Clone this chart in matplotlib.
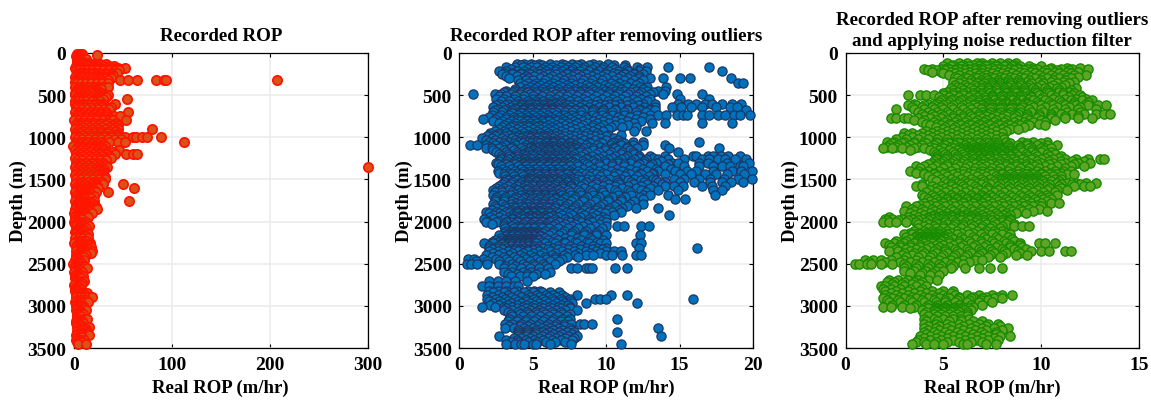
import numpy as np
import matplotlib
matplotlib.use("Agg")
import matplotlib.pyplot as plt

plt.rcParams['font.family'] = ['Liberation Serif', 'DejaVu Serif']
plt.rcParams['font.weight'] = 'bold'

# values, one list of ROP values per depth row
red_depth = [15, 40, 70, 100, 130, 150, 175, 205, 235, 270, 300, 325, 360, 400, 450, 500, 550, 600, 640, 700, 750, 800, 850, 900, 950, 1000, 1050, 1100, 1150, 1200, 1250, 1300, 1350, 1400, 1450, 1500, 1550, 1600, 1650, 1700, 1750, 1800, 1850, 1900, 1950, 2000, 2050, 2100, 2150, 2200, 2250, 2300, 2350, 2400, 2450, 2500, 2550, 2600, 2650, 2700, 2750, 2800, 2850, 2900, 2950, 3000, 3050, 3100, 3150, 3200, 3250, 3300, 3350, 3400, 3450]
red_rop = [
    [3, 5, 7, 8], [2.5, 4.5, 6.5, 8.5], [3, 6, 9, 12], [3, 5, 8],
    [3, 6, 10, 14, 18, 22, 27, 33], [2, 5, 8, 12, 16, 20, 25, 30, 36, 41],
    [1, 4, 8, 12, 17, 22, 28, 34, 40, 45, 52], [2, 5, 9, 13, 18, 24, 30, 36, 42, 46],
    [3, 7, 11, 16, 21, 26, 32, 38, 44], [2, 6, 10, 14, 20, 25, 30, 36, 40],
    [3, 8, 13, 18, 23, 28, 33, 38], [2, 6, 11, 16, 22, 28, 35, 47, 55, 64, 84, 92, 94],
    [3, 7, 12, 17, 23, 29, 35], [1, 5, 10, 15, 20, 26, 31, 35], [2, 6, 11, 16, 21, 25],
    [1, 5, 9, 14, 20, 26, 30, 35], [2, 6, 10, 15, 20, 25, 30, 54], [1, 4, 9, 14, 19, 24, 29, 42],
    [2, 6, 11, 17, 23, 30, 38], [1, 5, 10, 16, 22, 28, 33, 55], [2, 6, 12, 18, 25, 32, 41, 47],
    [0.5, 5, 10, 16, 22, 30, 36, 40, 53], [2, 7, 13, 19, 26, 33, 40, 45], [1, 6, 12, 18, 25, 32, 39, 45, 80],
    [2, 7, 14, 21, 28, 35, 45], [1, 5, 11, 17, 24, 31, 38, 45, 52, 60, 63, 70, 75, 89], [2, 7, 13, 20, 28, 36, 45, 52, 112],
    [-1, 4, 9, 15, 21, 27, 32], [1, 6, 12, 18, 24, 30, 46], [2, 7, 13, 20, 27, 34, 42, 53, 60, 64],
    [1, 6, 12, 18, 25, 32, 38], [2, 7, 13, 19, 25, 30], [1, 5, 11, 17, 24, 29, 34, 300],
    [2, 7, 13, 19, 25, 30], [1, 6, 11, 17, 23, 30], [2, 7, 13, 19, 26, 32],
    [1, 6, 11, 17, 24, 30, 50], [2, 6, 11, 16, 21, 25, 61], [1, 5, 9, 14, 18, 22, 35],
    [2, 6, 10, 15, 20], [1, 5, 9, 14, 20, 56], [2, 6, 10, 15, 20], [1, 5, 10, 16, 20, 24],
    [0, 4, 8, 13, 18], [1, 5, 9, 14], [0.5, 4, 8, 12], [2, 6, 10, 15], [2, 6, 10],
    [2, 6, 10, 14], [1, 5, 9, 14], [0.5, 5, 10, 16], [2, 6, 11, 17], [2, 7, 12, 18],
    [2, 6, 9, 12], [1.5, 5, 10], [-1, 2, 6], [1, 4, 8, 13], [0.5, 4, 8], [1, 5, 9],
    [2, 6, 10], [0.5, 4, 7], [1.5, 4, 6], [2, 6, 10, 13], [2, 6, 10, 14, 18],
    [1.5, 5, 9, 14], [2, 5, 9], [2, 7, 12], [3, 6, 9], [3, 8, 13], [2, 5, 9],
    [3, 8, 15], [3, 7, 12], [2, 7, 12, 15], [2, 6, 10], [4, 12],
]
red_top_depth = [25, 320]
red_top_rop = [23, 207]
red_fill_depth = [55, 115, 190, 250, 285, 345, 425, 475, 525, 575, 620, 670, 725, 775, 825, 875, 925, 975, 1025, 1075, 1125, 1175, 1225, 1275, 1325, 1375, 1425, 1475, 1525, 1575, 1625, 1675, 1725, 1775, 1825, 1875, 1925, 1975, 2025, 2075, 2125, 2175, 2225, 2275, 2325, 2375, 2425, 2475, 2525, 2575, 2625, 2675, 2725, 2775, 2825, 2875, 2925, 2975, 3025, 3075, 3125, 3175, 3225, 3275, 3325, 3375, 3425]
red_fill_rop = [
    [4, 7], [4, 7, 10, 15], [3, 7, 10, 15, 20, 26, 32, 38, 43], [4, 8, 12, 18, 23, 28, 34, 39], [1, 5, 9, 12, 16, 21, 27, 32, 37],
    [1, 5, 9, 14, 19, 25, 30], [3, 7, 12, 18, 23, 28], [1, 4, 8, 13, 18, 23, 28], [3, 7, 12, 17, 23, 28, 33], [1, 4, 8, 12, 18, 23, 27],
    [3, 8, 12, 16, 21, 27, 31], [3, 8, 13, 19, 25, 31, 36], [3, 8, 14, 20, 27, 33], [2, 7, 12, 18, 24, 30, 37], [3, 8, 14, 20, 27, 35, 43],
    [3, 8, 15, 22, 29, 37, 44], [3, 9, 15, 21, 28, 36, 43], [3, 9, 16, 23, 31, 38, 44], [3, 8, 14, 21, 28, 35, 42, 48], [2, 6, 11, 18, 24, 30],
    [3, 8, 14, 20, 26, 30], [3, 9, 15, 22, 28, 34, 40], [3, 9, 15, 22, 29, 36], [3, 8, 15, 21, 27, 33], [3, 8, 14, 21, 27, 32],
    [3, 9, 15, 21, 27, 31], [3, 8, 14, 20, 26, 30], [3, 9, 15, 21, 28, 32], [3, 8, 14, 20, 25, 29], [3, 8, 13, 18, 23],
    [2, 4, 7, 9, 11, 14, 16, 20], [3, 5, 7, 9, 12, 14, 17], [3, 5, 7, 9, 11, 14, 17], [3, 5, 7, 9, 12, 15, 18], [2, 4, 7, 9, 12, 15, 18, 22], [2, 4, 6, 8, 11, 13, 15],
    [2, 4, 6, 8, 10, 12], [2, 4, 6, 8], [1, 3, 5, 7, 9, 11], [4, 6, 8, 10, 12], [1, 3, 5, 7, 9], [3, 5, 8, 10, 12], [2, 4, 6, 8, 11, 13], [3, 5, 8, 10, 13, 16], [3, 5, 7, 9, 12, 15], [4, 6, 8, 11, 13, 17], [2, 4, 6, 8, 10], [2, 3, 5, 7], [1, 3, 5, 7, 10], [2, 4, 6],
    [2, 4, 6], [1, 3, 5, 7], [2, 4, 6, 8], [2, 3, 5], [1, 3, 5], [2, 5, 8, 11], [3, 5, 8, 12],
    [2, 4, 7], [3, 5, 7, 9], [3, 5, 7], [3, 5, 7], [2, 5, 8], [3, 5, 7], [4, 6, 9, 12], [4, 6, 9, 13], [3, 6, 8], [3, 5, 8],
]

blue_depth = [125, 165, 210, 255, 300, 350, 400, 445, 490, 540, 600, 640, 680, 730, 780, 830, 880, 930, 970, 1010, 1050, 1090, 1130, 1170, 1220, 1260, 1300, 1345, 1400, 1440, 1490, 1530, 1580, 1630, 1680, 1730, 1790, 1840, 1885, 1920, 1970, 2010, 2050, 2110, 2160, 2220, 2260, 2310, 2350, 2400, 2445, 2500, 2555, 2600, 2645, 2700, 2760, 2820, 2870, 2920, 2970, 3010, 3050, 3100, 3155, 3210, 3260, 3310, 3360, 3410, 3450]
blue_rop = [
    [3.9, 4.4, 4.9, 5.4, 6.2, 7, 7.7, 8.3, 9.1, 10.1],
    [3.2, 3.8, 4.3, 4.9, 5.3, 5.8, 6.3, 6.9, 7.4, 7.9, 8.5, 9.2, 9.8, 10.4, 11.2, 12.1, 12.8, 14.2, 17],
    [2.7, 3.2, 3.9, 4.4, 5, 5.5, 5.9, 6.5, 7, 7.6, 8.2, 8.8, 9.5, 10.1, 10.8, 11.5, 12.2, 12.7, 17.9],
    [2.9, 3.6, 4.2, 4.8, 5.4, 6, 6.6, 7.3, 8, 8.6, 9.3, 10, 10.7, 11.3, 11.9, 12.5],
    [3.4, 4.3, 4.7, 5.5, 6.1, 6.8, 7.4, 8.1, 8.7, 9.4, 10, 10.8, 11.5, 12.2, 13, 13.9, 15, 15.7, 18.5],
    [4.1, 4.7, 5.2, 5.7, 6.4, 7, 7.6, 8.3, 8.9, 9.6, 10.3, 10.9, 11.6, 12.2, 19, 19.3],
    [4.1, 4.8, 5.3, 5.9, 6.4, 7, 7.5, 8.2, 8.8, 9.4, 10.1, 10.7, 11.4, 12.3, 12.8, 14.1],
    [3.2, 3.8, 4.4, 4.9, 5.5, 6, 6.6, 7.2, 7.9, 8.5, 9.2, 9.9, 10.6, 11.2, 12, 12.8, 13.5, 14],
    [0.9, 2.4, 2.8, 3.5, 4.1, 4.8, 5.3, 5.9, 6.5, 7, 7.6, 8.3, 8.9, 9.6, 10.2, 10.8, 11.5, 12.2, 13, 13.9, 14.8, 16.5],
    [2.5, 3, 3.7, 4.3, 5, 5.4, 6.1, 6.6, 7.2, 7.8, 8.4, 9, 9.7, 10.4, 11, 11.8, 12.4, 13, 15, 17],
    [2.7, 3.3, 3.9, 4.4, 5, 5.5, 6, 6.5, 7.1, 7.7, 8.3, 8.9, 9.5, 10.2, 10.9, 11.7, 12.5, 13.3, 14.9, 15.6, 16.1, 16.7, 17.2, 17.9, 18.6, 19.2],
    [2.3, 2.9, 3.5, 4.1, 4.6, 5.1, 5.6, 6.1, 6.6, 7.1, 7.6, 8.2, 8.8, 9.5, 10.2, 11, 11.8, 12.6, 13.3, 14.5, 15.1, 15.8, 16.5, 17.5, 18.4, 18.9],
    [2.4, 3, 3.6, 4.3, 4.9, 5.4, 5.8, 6.3, 6.8, 7.4, 7.9, 8.5, 9.1, 9.8, 10.6, 11.4, 12.2, 12.9, 13.3, 19.5],
    [2.2, 2.8, 3.4, 4, 4.5, 5, 5.5, 6, 6.6, 7.1, 7.7, 8.3, 9, 9.7, 10.4, 11.2, 12.1, 13, 13.5, 14.1, 14.8, 15.2, 15.5, 16.5, 17, 17.6, 18.1, 18.7, 19.1, 19.8],
    [1.6, 2.4, 3.2, 3.8, 4.4, 4.9, 5.4, 5.9, 6.4, 7, 7.5, 8.1, 8.7, 9.5, 10.2, 11, 12, 13],
    [2.7, 3.3, 3.8, 4.3, 4.8, 5.2, 5.7, 6.3, 6.9, 7.4, 8, 8.7, 9.4, 10.2, 11, 11.9, 13.1, 14, 16.5, 18.6],
    [2.9, 3.5, 4.1, 4.7, 5.2, 5.8, 6.3, 6.8, 7.5, 8.2, 9, 9.6, 10.3, 11.1, 12],
    [2.4, 3, 3.6, 4.2, 4.7, 5.3, 5.8, 6.3, 6.9, 7.6, 8.4, 9.1, 9.8, 11.9, 12.7],
    [2, 2.7, 3.4, 4, 4.6, 5.1, 5.7, 6.2, 6.8, 7.5, 8.2, 8.9, 9.5, 10.1, 11],
    [1.5, 2.2, 2.9, 3.6, 4.2, 4.8, 5.3, 5.8, 6.4, 6.9, 7.5, 8.2, 8.9, 9.6, 10.5],
    [2, 2.7, 3.3, 4, 4.6, 5.2, 5.7, 6.3, 6.9, 7.5, 8.1, 8.8, 9.6, 10.5, 11.1, 11.8, 12.5, 16.3],
    [0.7, 1.2, 1.8, 2.4, 3.1, 3.8, 4.5, 5.1, 5.7, 6.2, 6.7, 7.3, 7.9, 8.6, 9.4, 10.3, 11, 11.8, 12.5, 14],
    [1.8, 2.2, 2.7, 3.5, 4.2, 4.8, 5.3, 5.8, 6.2, 6.7, 7.2, 7.8, 8.4, 9.1, 9.9, 10.6, 11.4, 12.1, 14.3, 17.7],
    [2.5, 3.2, 3.9, 4.5, 5, 5.5, 5.9, 6.4, 6.9, 7.4, 8, 8.7, 9.5, 10.3, 11.1, 11.8, 14.9],
    [2.8, 3.4, 4, 4.5, 5.1, 5.6, 6.1, 6.6, 7.1, 7.7, 8.3, 9, 9.8, 10.6, 11.4, 12.2, 13, 14, 15.9, 16.1, 16.9, 17.3, 17.8, 18.3, 19.1],
    [2.8, 3.3, 3.9, 4.4, 4.9, 5.4, 5.9, 6.3, 6.8, 7.3, 7.9, 8.6, 9.3, 10.1, 11, 11.9, 12.7, 13.5, 14.2, 15.3, 16.5, 17, 17.6, 18.1, 18.8, 19.5],
    [2.5, 3.1, 3.7, 4.3, 4.8, 5.3, 5.8, 6.2, 6.7, 7.2, 7.8, 8.5, 9.2, 10, 10.8, 11.6, 12.5, 13.4, 14.5, 14.9, 16.3, 16.9, 18.2, 19.7],
    [2.8, 3.4, 4, 4.5, 5, 5.5, 6, 6.5, 7, 7.5, 8.1, 8.8, 9.6, 10.4, 11.2, 12.1, 13, 14, 15.3, 16.3, 17.3, 17.9, 18.4, 19.1, 19.3],
    [2.6, 3.2, 3.8, 4.4, 4.9, 5.4, 5.9, 6.4, 6.9, 7.5, 8.1, 8.8, 9.5, 10.3, 11.1, 12, 12.8, 13.5, 14.7, 15.5, 16.1, 17.3, 18.6, 19.2, 19.9],
    [3, 3.6, 4.2, 4.8, 5.3, 5.8, 6.3, 6.8, 7.3, 7.9, 8.6, 9.3, 10, 10.8, 11.6, 12.4, 13.1, 14, 15, 15.8, 16.7, 17.5, 18.2, 19.4],
    [3.2, 3.8, 4.4, 4.9, 5.4, 5.9, 6.3, 6.8, 7.4, 8, 8.7, 9.4, 10.2, 11, 11.9, 12.6, 13.2, 14.6, 15.3, 16.3, 17.1, 18, 19, 19.9],
    [3, 3.6, 4.2, 4.7, 5.2, 5.7, 6.2, 6.7, 7.3, 7.9, 8.6, 9.3, 10, 10.8, 11.7, 12.6, 13.5, 14, 15, 16, 17.1, 17.9, 18.5, 19.3],
    [2.7, 3.3, 3.9, 4.5, 5, 5.5, 6, 6.5, 7, 7.6, 8.3, 9, 9.8, 10.6, 11.5, 12.4, 13.2, 14, 14.6, 15.2, 16.5, 17.2, 18.1],
    [2.3, 2.8, 3.4, 4, 4.6, 5.2, 5.7, 6.2, 6.8, 7.4, 8.1, 8.9, 9.7, 10.6, 11.5, 12.4, 13.5, 14.9, 17.3, 17.9],
    [2.3, 2.9, 3.5, 4.2, 4.8, 5.3, 5.8, 6.4, 7, 7.6, 8.3, 9.1, 9.9, 10.8, 11.7, 12.5, 13, 14.2, 17.4],
    [2.4, 3, 3.7, 4.3, 4.9, 5.4, 5.9, 6.5, 7.1, 7.8, 8.5, 9.3, 10.1, 11, 12.5, 14.7, 15.4],
    [2.3, 2.9, 3.5, 4.1, 4.7, 5.2, 5.7, 6.2, 6.8, 7.4, 8.1, 8.9, 9.8, 10.7, 11.6, 12.5],
    [2.5, 3.2, 3.8, 4.4, 5, 5.5, 6, 6.5, 7.1, 7.8, 8.6, 9.4, 10.2, 11.1, 12, 13.5],
    [1.8, 2.5, 3.2, 3.9, 4.5, 5, 5.5, 6, 6.6, 7.3, 8, 8.8, 9.6, 10.4, 11],
    [2.3, 2.9, 3.6, 4.2, 4.8, 5.3, 5.8, 6.4, 7, 7.7, 8.5, 9.3, 10.5, 14.3],
    [1.7, 2.3, 3, 3.6, 4.3, 4.8, 5.4, 5.9, 6.5, 7.2, 8, 8.8, 9.5, 10],
    [1.8, 2.5, 3.2, 3.9, 4.5, 5.1, 5.6, 6.2, 6.8, 7.5, 8.3, 9, 10],
    [3, 3.6, 4.2, 4.8, 5.3, 5.8, 6.4, 7, 7.7, 8.4, 9.2, 10, 10.7, 11.2, 12.4, 12.9],
    [3.2, 3.8, 4.3, 4.8, 5.3, 5.8, 6.4, 7.1, 7.8, 8.6, 9.5],
    [2.7, 3.2, 3.7, 4.2, 4.6, 5, 5.5, 6.1, 6.8, 7.6, 8.5, 9.3, 10, 12.3],
    [2.4, 2.9, 3.4, 3.8, 4.2, 4.6, 5, 5.4, 6, 6.7, 7.5, 8.3, 9, 9.8],
    [1.7, 2.3, 2.9, 3.4, 3.9, 4.3, 4.7, 5.2, 5.8, 6.5, 7.2, 8, 8.8, 9.6, 10, 12, 12.4],
    [2, 2.6, 3.2, 3.8, 4.4, 5, 5.6, 6.3, 7, 7.8, 8.6, 9.4, 10, 12.2, 16.2],
    [2, 2.6, 3.3, 4, 4.7, 5.4, 6.2, 7, 7.8, 8.6, 9.3, 10, 10.5, 11],
    [1.8, 2.6, 3.4, 4.1, 4.8, 5.5, 6.3, 7.1, 7.9, 8.6, 9.1, 10, 10.4, 11.1, 12, 12.4],
    [0.6, 1, 1.6, 2.5, 3.2, 3.9, 4.5, 5.2, 5.9, 6.5, 7],
    [0.5, 0.8, 1.2, 1.9, 2.7, 3.6, 4.3, 5, 5.7, 6.5],
    [3, 3.6, 4.2, 4.8, 5.4, 6, 7.6, 8, 8.6, 8.8, 9, 10.6, 11.4],
    [3, 3.6, 4.3, 4.9, 5.5, 6.2],
    [3.5, 4.1, 4.6, 5],
    [2, 2.6, 3.2, 3.8, 4.6],
    [1.5, 2, 2.6, 3.2, 3.7, 4],
    [2, 2.6, 3.2, 3.9, 4.7, 5.1, 5.5],
    [1.9, 2.6, 3.3, 4, 4.7, 5.3, 5.9, 6.4, 7, 8, 10.3, 11.4],
    [1.9, 2.5, 3.1, 3.8, 4.5, 5.1, 5.7, 6.3, 6.9, 7.5, 9.2, 9.6, 10, 15.9],
    [2.3, 2.9, 3.5, 4.2, 4.8, 5.4, 6, 6.6, 7.1, 7.7, 8.6, 12.1],
    [1.5, 2.4, 3, 3.6, 4.3, 4.9, 5.5, 6.1, 6.7, 7.5],
    [3, 3.6, 4.2, 4.8, 5.4, 6, 6.6, 7.2, 8],
    [3.5, 4.1, 4.7, 5.3, 5.8, 6.4, 7, 7.5],
    [3.4, 4, 4.6, 5.2, 5.8, 6.4, 7, 7.5, 10.7],
    [3.1, 3.6, 4.2, 4.8, 5.4, 6, 6.6, 7.1, 7.6, 8.2, 8.5, 9],
    [3.1, 3.7, 4.4, 5, 5.6, 6.2, 6.8, 7.5, 13.5],
    [4, 4.6, 5.2, 5.7, 6.2, 6.8, 7.3, 7.8, 10.7],
    [2.7, 4, 4.5, 5, 5.6, 6.2, 6.8, 7.4, 8, 13.7],
    [3.2, 3.9, 4.5, 5.1, 5.7, 6.3, 6.9, 7.7],
    [3.2, 3.8, 4.2, 4.4, 5, 5.2, 6.2, 7.6, 11],
]
blue_fill_depth = [145, 188, 232, 278, 325, 375, 422, 468, 515, 570, 620, 660, 705, 755, 805, 855, 905, 950, 990, 1030, 1070, 1110, 1150, 1195, 1240, 1280, 1322, 1372, 1420, 1465, 1510, 1555, 1605, 1655, 1705, 1760, 1815, 1862, 1902, 1945, 1990, 2030, 2080, 2135, 2190, 2240, 2285, 2330, 2375, 2420, 2470, 2525, 2620, 2840, 2895, 2945, 2990, 3030, 3075, 3125, 3180, 3235, 3285, 3335, 3385, 3430]
blue_fill_rop = [
    [4.2, 5.1, 5.6, 6.6, 7.2, 8, 8.8, 9.5, 10.5, 11.3],
    [3.5, 4.6, 5.6, 6.1, 6.6, 7.2, 7.7, 8.4, 9, 9.7, 10.6, 11.4, 12.3],
    [3, 3.6, 4.2, 4.7, 5.2, 5.7, 6.2, 6.8, 7.3, 7.9, 8.5, 9.2, 9.9, 10.5, 11.2, 11.9],
    [3.2, 3.9, 4.5, 5.1, 5.7, 6.3, 7, 7.7, 8.3, 9, 9.7, 10.4, 11, 11.6, 12.2],
    [4, 4.5, 5, 5.8, 6.5, 7.1, 7.7, 8.4, 9, 9.7, 10.5, 11.2, 11.9, 12.5],
    [4.4, 5, 5.5, 6.1, 6.7, 7.3, 7.9, 8.6, 9.2, 9.9, 10.6, 11.3, 12],
    [3.8, 4.5, 5.1, 5.6, 6.2, 6.7, 7.3, 7.9, 8.5, 9.1, 9.8, 10.4, 11, 11.8, 12.5],
    [3, 3.6, 4.2, 4.7, 5.2, 5.8, 6.3, 6.9, 7.5, 8.2, 8.8, 9.5, 10.2, 10.9, 11.6, 12.4, 13.2],
    [2.7, 3.2, 3.8, 4.4, 5, 5.6, 6.2, 6.8, 7.3, 8, 8.6, 9.3, 10, 10.6, 11.3, 12, 12.7],
    [2.8, 3.4, 4, 4.7, 5.2, 5.7, 6.3, 6.9, 7.5, 8.1, 8.7, 9.4, 10.1, 10.7, 11.4, 12.1, 12.8],
    [2.5, 3.1, 3.7, 4.2, 4.7, 5.2, 5.7, 6.2, 6.7, 7.3, 7.9, 8.5, 9.2, 9.9, 10.6, 11.4, 12.2],
    [2.6, 3.2, 3.8, 4.3, 4.8, 5.3, 5.8, 6.3, 6.8, 7.3, 7.9, 8.5, 9.1, 9.8, 10.6, 11.4, 12.3, 13],
    [2.3, 2.9, 3.5, 4.1, 4.6, 5.1, 5.6, 6.1, 6.6, 7.2, 7.7, 8.3, 9, 9.7, 10.4, 11.2, 12, 12.7],
    [2, 2.6, 3.2, 3.7, 4.2, 4.7, 5.2, 5.7, 6.2, 6.8, 7.3, 7.9, 8.6, 9.3, 10, 10.8, 11.6, 12.5],
    [2.3, 2.9, 3.5, 4.1, 4.6, 5.1, 5.6, 6.1, 6.6, 7.2, 7.8, 8.4, 9.1, 9.8, 10.6, 11.4, 12.4],
    [3, 3.6, 4.1, 4.6, 5, 5.5, 6, 6.6, 7.2, 7.8, 8.4, 9.1, 9.8, 10.6, 11.5],
    [2.7, 3.3, 3.9, 4.4, 5, 5.5, 6, 6.5, 7.2, 7.9, 8.7, 9.4, 10.1],
    [2.1, 2.7, 3.2, 3.8, 4.4, 5, 5.5, 6, 6.6, 7.2, 8, 8.7, 9.4],
    [1.9, 2.4, 3, 3.7, 4.3, 4.9, 5.4, 5.9, 6.5, 7.1, 7.8, 8.5, 9.2, 10],
    [1.8, 2.4, 3.1, 3.8, 4.4, 5, 5.5, 6, 6.6, 7.2, 7.8, 8.5, 9.2, 10, 10.8],
    [2.3, 3, 3.7, 4.3, 4.9, 5.4, 5.9, 6.4, 6.9, 7.5, 8.2, 8.9, 9.7, 10.4, 11.2],
    [2, 2.9, 3.6, 4.3, 4.9, 5.4, 5.9, 6.4, 6.9, 7.5, 8.1, 8.8, 9.6, 10.5, 11.4],
    [2.3, 3, 3.7, 4.4, 5, 5.5, 6, 6.5, 7, 7.6, 8.3, 9.1, 9.9, 10.8, 11.6],
    [2.7, 3.3, 4, 4.6, 5.2, 5.7, 6.2, 6.7, 7.2, 7.8, 8.5, 9.3, 10.2, 11, 11.9],
    [2.9, 3.6, 4.2, 4.7, 5.3, 5.8, 6.3, 6.8, 7.4, 8, 8.7, 9.5, 10.4, 11.3, 12.2, 13.2],
    [2.7, 3.2, 3.8, 4.3, 4.7, 5.2, 5.7, 6.1, 6.6, 7.1, 7.7, 8.4, 9.1, 9.9, 10.8, 11.7, 12.6, 13.7],
    [2.6, 3.2, 3.8, 4.3, 4.8, 5.3, 5.7, 6.2, 6.7, 7.3, 8, 8.7, 9.5, 10.4, 11.2, 12.2, 13.1, 14.2],
    [2.9, 3.5, 4.1, 4.6, 5.1, 5.6, 6.1, 6.6, 7.1, 7.7, 8.4, 9.1, 9.9, 10.7, 11.6, 12.5, 13.4, 14.4],
    [2.7, 3.3, 3.9, 4.5, 5, 5.5, 6, 6.5, 7, 7.6, 8.3, 9, 9.8, 10.6, 11.4, 12.3, 13.2],
    [3.1, 3.7, 4.3, 4.9, 5.4, 5.9, 6.4, 6.9, 7.5, 8.1, 8.8, 9.6, 10.5, 11.3, 12.1, 12.9],
    [3.3, 3.9, 4.5, 5, 5.5, 6, 6.5, 7, 7.6, 8.3, 9, 9.8, 10.7, 11.5, 12.4, 13.4],
    [2.9, 3.5, 4.1, 4.6, 5.1, 5.6, 6.1, 6.6, 7.1, 7.8, 8.5, 9.3, 10.1, 10.9, 11.8, 12.8, 13.8],
    [2.5, 3, 3.7, 4.3, 4.8, 5.4, 5.9, 6.4, 7, 7.7, 8.5, 9.3, 10.2, 11.1, 12, 13],
    [2.4, 2.9, 3.6, 4.2, 4.8, 5.3, 5.8, 6.3, 6.9, 7.5, 8.2, 9, 9.8, 10.7, 11.6, 12.7],
    [2.5, 3.1, 3.8, 4.4, 4.9, 5.4, 5.9, 6.5, 7.2, 7.9, 8.7, 9.5, 10.4, 11.3, 12.3],
    [2.4, 3, 3.6, 4.2, 4.8, 5.3, 5.8, 6.3, 6.9, 7.6, 8.4, 9.2, 10.1, 11, 11.9],
    [2.4, 3.1, 3.7, 4.3, 4.9, 5.4, 5.9, 6.5, 7.2, 7.9, 8.7, 9.6, 10.5, 11.4],
    [2.2, 2.9, 3.5, 4.1, 4.7, 5.2, 5.7, 6.3, 7, 7.7, 8.5, 9.3, 10.1, 10.9],
    [2, 2.7, 3.4, 4, 4.6, 5.1, 5.6, 6.2, 6.8, 7.5, 8.3, 9.1, 9.9],
    [2.1, 2.7, 3.4, 4, 4.6, 5.1, 5.6, 6.1, 6.7, 7.4, 8.2, 9, 9.8],
    [1.9, 2.6, 3.3, 3.9, 4.5, 5, 5.5, 6, 6.6, 7.3, 8.1, 8.9, 9.7],
    [2.2, 3, 3.7, 4.3, 4.9, 5.4, 5.9, 6.5, 7.2, 7.9, 8.7, 9.5],
    [3.1, 3.7, 4.2, 4.7, 5.1, 5.6, 6.1, 6.7, 7.4, 8.1, 8.9, 9.7],
    [3, 3.5, 4, 4.4, 4.8, 5.2, 5.7, 6.3, 7, 7.7, 8.5, 9.3],
    [2.8, 3.3, 3.7, 4.1, 4.5, 4.9, 5.3, 5.8, 6.5, 7.2, 8, 8.9],
    [2.2, 2.7, 3.1, 3.5, 3.9, 4.3, 4.7, 5.1, 5.6, 6.3, 7.1, 7.9, 8.7, 9.4],
    [2, 2.6, 3.2, 3.7, 4.1, 4.5, 4.9, 5.4, 6, 6.7, 7.5, 8.3, 9.1],
    [2.2, 2.9, 3.5, 4.1, 4.7, 5.3, 6, 6.7, 7.4, 8.2, 9, 9.7],
    [2.3, 2.9, 3.6, 4.3, 5, 5.7, 6.5, 7.3, 8.1, 8.9, 9.6],
    [2.2, 3, 3.7, 4.4, 5.1, 5.8, 6.5, 7.3, 8.1],
    [1.1, 1.9, 2.7, 3.4, 4.1, 4.8, 5.5, 6.2, 6.8],
    [3.1, 3.8, 4.5, 5.1, 5.8],
    [3.3, 3.9, 4.6, 5.2, 5.8],
    [2.3, 3, 3.7, 4.4, 5, 5.6, 6.2, 6.8],
    [2.2, 2.9, 3.5, 4.2, 4.8, 5.4, 6, 6.6, 7.2],
    [2, 2.7, 3.3, 4, 4.6, 5.2, 5.8, 6.4, 7, 7.6],
    [2.1, 2.7, 3.3, 3.9, 4.5, 5.1, 5.7, 6.3, 6.9, 7.4],
    [3.2, 3.9, 4.5, 5.1, 5.7, 6.3, 6.9, 7.5],
    [3.3, 4, 4.6, 5.2, 5.7, 6.3, 6.9],
    [3.6, 4.3, 4.9, 5.5, 6.1, 6.7, 7.3],
    [3.3, 3.9, 4.5, 5.1, 5.7, 6.3, 6.9, 7.4],
    [3.4, 4.1, 4.7, 5.3, 5.9, 6.5, 7.1],
    [4, 4.6, 5.2, 5.8, 6.4, 7, 7.6],
    [4, 4.6, 5.2, 5.8, 6.4, 7, 7.7],
    [3.7, 4.2, 4.8, 5.4, 6, 6.6, 7.2, 7.8],
    [3.5, 4, 4.7, 5.3, 5.9, 6.5, 7.2],
]
# darkest part of the cloud, where the marker edges pile up
blue_core_depth = [590, 650, 715, 790, 865, 1000, 1040, 1100, 1140, 1180, 1210, 1250, 1290, 1335, 1380, 1430, 1480, 1520, 1570, 1620, 1670, 1720, 1775, 1830, 1875, 1935, 1960, 2000, 2065, 2120, 2150, 2175, 2205, 2230, 2250, 2270, 2295, 2340]
blue_core_rop = [
    [4.2, 4.8, 5.3, 5.9, 6.4, 6.9], [3.8, 4.4, 4.9, 5.4, 5.9, 6.4, 6.9], [3.6, 4.2, 4.7, 5.2, 5.7, 6.3], [3.9, 4.5, 5, 5.6, 6.1, 6.7], [3.7, 4.3, 4.8, 5.4],
    [3.9, 4.5, 5, 5.6, 6.1], [4.1, 4.7, 5.2, 5.8, 6.3, 6.8], [4.9, 5.5, 6, 6.5, 7.1, 7.6], [5, 5.6, 6, 6.5, 7, 7.5, 8], [4.7, 5.3, 5.8, 6.2, 6.7, 7.2, 7.7, 8.2],
    [4.3, 4.9, 5.4, 5.9, 6.4, 6.9, 7.4], [4.1, 4.7, 5.2, 5.7, 6.1, 6.6, 7.1, 7.6], [4.1, 4.6, 5.1, 5.6, 6, 6.5, 7, 7.5], [4.3, 4.8, 5.3, 5.8, 6.3, 6.8, 7.3], [4.2, 4.7, 5.2, 5.7, 6.2, 6.7, 7.2],
    [4.6, 5.1, 5.6, 6.1, 6.6, 7.1, 7.6], [4.8, 5.2, 5.7, 6.2, 6.6, 7.2, 7.7], [4.6, 5.2, 5.7, 6.2, 6.8, 7.4], [4.4, 4.9, 5.4, 5.9, 6.4, 7, 7.6], [3.8, 4.4, 4.9, 5.5, 6, 6.5],
    [3.7, 4.3, 4.8, 5.3, 5.8, 6.3, 6.8], [3.9, 4.5, 5.1, 5.6, 6.1, 6.6], [3.8, 4.4, 4.9, 5.4, 5.9, 6.5, 7.1], [3.6, 4.1, 4.7, 5.2, 5.7, 6.2], [3.4, 3.9, 4.5, 5, 5.5, 6],
    [3.8, 4.3, 4.8, 5.3, 5.8, 6.3], [3.6, 4.1, 4.6, 5.1, 5.6], [3.5, 4.1, 4.6, 5.1, 5.6, 6.1], [3.9, 4.4, 4.9, 5.4, 5.9], [3.5, 3.9, 4.4, 4.9, 5.4],
    [3.3, 3.7, 4.1, 4.5, 4.9, 5.3], [3.2, 3.6, 4, 4.4, 4.7, 5.1, 5.5], [3.3, 3.6, 3.9, 4.2, 4.5, 4.8, 5.1], [3.1, 3.4, 3.8, 4.1, 4.4, 4.7, 5], [3, 3.4, 3.7, 4, 4.3, 4.6, 4.9], [2.9, 3.3, 3.6, 4, 4.3, 4.6], [3.1, 3.5, 3.9, 4.3, 4.7, 5.1], [3.4, 3.8, 4.2, 4.6, 5],
]

green_depth = [120, 160, 190, 220, 260, 300, 340, 380, 420, 460, 500, 540, 580, 620, 670, 720, 770, 820, 860, 900, 950, 1000, 1050, 1090, 1130, 1170, 1220, 1260, 1300, 1340, 1400, 1440, 1490, 1540, 1580, 1620, 1680, 1730, 1780, 1820, 1870, 1920, 1970, 2000, 2050, 2110, 2150, 2210, 2260, 2300, 2350, 2400, 2450, 2505, 2550, 2590, 2630, 2690, 2720, 2770, 2820, 2870, 2910, 2960, 3010, 3050, 3100, 3150, 3210, 3260, 3310, 3360, 3410, 3450]
green_rop = [
    [5.2, 5.8, 6.2, 6.7, 7, 7.5, 7.9, 8.3, 8.7],
    [5, 5.4, 5.9, 6.3, 6.8, 7.2, 7.7, 8.1, 8.5, 8.9, 9.4, 10],
    [4, 4.4, 4.9, 5.3, 5.8, 6.3, 6.8, 7.3, 7.8, 8.3, 8.8, 9.3, 9.8, 10.4, 11, 11.6, 12.4],
    [4.4, 4.9, 5.4, 5.8, 6.3, 6.8, 7.3, 7.8, 8.3, 8.9, 9.5, 10.1, 10.7, 11.3, 11.9],
    [5.3, 5.8, 6.3, 6.8, 7.2, 7.7, 8.2, 8.7, 9.3, 9.9, 10.5, 11.1, 11.7, 12.3],
    [5.7, 6.2, 6.7, 7.2, 7.6, 8.1, 8.6, 9.1, 9.7, 10.3, 10.9, 11.5],
    [5.5, 6, 6.5, 6.9, 7.4, 7.8, 8.3, 8.8, 9.3, 9.9, 10.5, 11.1, 11.7],
    [5.6, 6.1, 6.6, 7, 7.5, 7.9, 8.4, 8.9, 9.4, 10, 10.6, 11.2],
    [5.4, 5.9, 6.4, 6.9, 7.3, 7.7, 8.1, 8.6, 9.1, 9.6, 10.2, 10.8, 11.8],
    [5.2, 5.7, 6.2, 6.7, 7.2, 7.6, 8.1, 8.6, 9.1, 9.7, 10.3, 10.9, 11.4],
    [3.2, 3.8, 4.1, 4.5, 5, 5.5, 6, 6.5, 7, 7.5, 8, 8.4, 8.9, 9.4, 9.9, 10.5, 11.1, 11.6, 12],
    [5, 5.5, 6, 6.5, 7, 7.5, 7.9, 8.4, 8.9, 9.4, 10, 10.6, 11.2, 11.8, 12.3],
    [4.8, 5.3, 5.8, 6.3, 6.8, 7.3, 7.8, 8.2, 8.7, 9.2, 9.8, 10.4, 11, 11.7, 12.4],
    [3.2, 3.6, 4, 4.5, 5, 5.5, 6, 6.5, 7, 7.5, 8, 8.5, 9, 9.5, 10, 10.6, 11.2, 11.8, 12.4, 12.9, 13.3],
    [2.6, 3.5, 4, 4.5, 5, 5.5, 6, 6.4, 6.9, 7.4, 7.9, 8.4, 8.9, 9.4, 10, 10.6, 11.2, 11.9, 12.8],
    [3.9, 4.4, 4.9, 5.3, 5.8, 6.3, 6.8, 7.3, 7.8, 8.3, 8.8, 9.3, 9.9, 10.5, 11, 11.6, 12.2, 12.8, 13.2, 13.5],
    [2.3, 2.6, 3, 3.2, 3.7, 4.3, 4.9, 5.5, 6, 6.5, 7, 7.5, 8, 8.6, 9.2, 9.8, 10.5, 11.2, 11.9, 12.6],
    [3.9, 4.5, 5.1, 5.6, 6.1, 6.6, 7.1, 7.6, 8.1, 8.6, 9.1, 9.6, 10.2],
    [4.3, 4.9, 5.4, 5.9, 6.4, 6.9, 7.4, 7.9, 8.4, 8.9, 9.4, 10.2],
    [5, 5.5, 6, 6.5, 7, 7.5, 8, 8.4, 8.8],
    [3, 3.4, 3.9, 4.4, 4.9, 5.4, 5.9, 6.4, 6.9, 7.4, 8],
    [2.9, 3.4, 3.9, 4.4, 4.9, 5.4, 5.9, 6.4, 6.9, 7.4, 8],
    [2.1, 2.5, 3, 3.5, 4, 4.6, 5.2, 5.7, 6.2, 6.7, 7.2, 7.7, 8.2, 9, 9.6, 10.3],
    [2.2, 2.7, 3.3, 3.9, 4.5, 5.1, 5.6, 6.1, 6.5, 7, 7.4, 7.8, 8.3, 8.8, 9.3, 9.8, 10.3, 10.8],
    [1.9, 2.4, 2.9, 3.5, 4, 4.5, 5, 5.5, 5.9, 6.3, 6.7, 7.1, 7.5, 7.9, 8.4, 8.9, 9.4, 10, 10.5],
    [4.5, 5, 5.5, 5.9, 6.3, 6.6, 6.9, 7.2, 7.5, 7.8, 8.2, 8.6, 9, 9.5, 10, 10.5],
    [4.7, 5.2, 5.7, 6.1, 6.5, 6.8, 7.1, 7.4, 7.7, 8, 8.4, 8.8, 9.3, 9.8, 10.4, 11],
    [4.6, 5.1, 5.6, 6.1, 6.5, 6.9, 7.3, 7.7, 8.1, 8.5, 9, 9.5, 10, 10.6, 11.2, 11.8, 12.4, 13, 13.2],
    [4.4, 4.9, 5.4, 5.9, 6.4, 6.8, 7.2, 7.6, 8, 8.4, 8.9, 9.4, 10, 10.6, 11.2, 11.9, 12.5],
    [3.6, 4, 4.6, 5.2, 5.8, 6.3, 6.8, 7.2, 7.7, 8.2, 8.7, 9.2, 9.7, 10.2, 10.8, 11.5, 12.2],
    [3.3, 3.7, 4.2, 4.8, 5.4, 6, 6.5, 7, 7.4, 7.8, 8.3, 8.8, 9.3, 9.8, 10.2, 10.7, 11.1, 11.5],
    [4, 4.5, 5, 5.5, 6, 6.5, 7, 7.5, 8, 8.4, 8.8, 9.2, 9.6, 10, 10.4, 10.8, 11.3, 11.7],
    [4.4, 4.9, 5.4, 5.9, 6.4, 6.9, 7.4, 7.9, 8.3, 8.7, 9.1, 9.5, 9.9, 10.3, 10.7, 11],
    [5.2, 5.7, 6.2, 6.7, 7.2, 7.7, 8.2, 8.7, 9.2, 9.7, 10.2, 10.8, 11.3, 11.8, 12.3, 12.8],
    [3.6, 3.9, 4.4, 4.9, 5.4, 6, 6.6, 7.2, 7.8, 8.3, 8.8, 9.3, 9.8, 10.3, 10.9, 11.7, 12.2, 12.5],
    [4.3, 4.8, 5.3, 5.8, 6.3, 6.8, 7.3, 7.8, 8.3, 8.8, 9.3, 9.8, 10.3, 10.8, 11.3],
    [3.9, 4.4, 4.9, 5.4, 5.9, 6.4, 6.9, 7.4, 7.9, 8.4, 8.9, 9.4, 9.9, 10.3, 10.8],
    [4.2, 4.7, 5.2, 5.7, 6.2, 6.7, 7.2, 7.7, 8.2, 8.7, 9.2, 9.7, 10.1, 10.5],
    [4, 4.5, 5, 5.5, 6, 6.5, 7, 7.5, 8, 8.5, 9, 9.5, 10, 10.5, 10.9],
    [3.1, 3.6, 4.1, 4.6, 5.1, 5.6, 6.1, 6.6, 7.1, 7.6, 8.1, 8.6, 9.1, 9.6, 10],
    [3, 3.5, 4, 4.5, 5, 5.5, 6, 6.5, 7, 7.5, 8, 8.5, 9, 9.6, 10.3],
    [3.5, 4, 4.5, 5, 5.4, 5.8, 6.2, 6.6, 7, 7.4, 7.8, 8.1, 8.4],
    [2, 2.4, 2.9, 3.4, 3.9, 4.4, 4.9, 5.3, 5.7, 6.1, 6.5, 6.9, 7.3, 7.7, 8.1, 8.4],
    [1.9, 2.2, 2.6, 3.1, 3.6, 4.1, 4.6, 5.1, 5.6, 6.1, 6.6, 7.1, 7.6, 8, 8.3],
    [4, 4.5, 5, 5.5, 6, 6.5, 7, 7.5, 8, 8.6, 9, 9.4],
    [3.5, 4, 4.4, 4.8, 5.2, 5.7, 6.2, 6.7, 7.2, 7.6, 8],
    [3, 3.4, 3.8, 4.2, 4.5, 4.8, 5.2, 5.7, 6.3, 6.9, 7.5, 8, 8.4],
    [3.3, 3.7, 4, 4.3, 4.5, 4.8, 5.1, 5.5, 6, 6.6, 7.2, 7.8, 8.5],
    [2, 2.5, 3, 3.5, 4, 4.4, 4.8, 5.3, 5.8, 6.4, 7, 7.6, 8.2, 8.9, 9.9, 10.2, 10.7],
    [2.3, 2.8, 3.3, 3.8, 4.3, 4.8, 5.3, 5.9, 6.5, 7.1, 7.7, 8.4, 9],
    [2.2, 2.7, 3.3, 3.9, 4.5, 5.1, 5.7, 6.3, 6.9, 7.5, 8.1, 8.8, 9.5, 10, 10.4, 11.2, 11.5],
    [2.9, 3.4, 3.9, 4.4, 5, 5.6, 6.2, 6.8, 7.4, 8, 8.7, 9.3],
    [1, 1.4, 1.8, 2.3, 3, 3.6, 4.2, 4.8, 5.4, 6, 6.6, 7],
    [0.5, 0.7, 1.1, 1.3, 1.8, 2.4, 3, 3.6, 4.2, 4.8, 5.4, 6],
    [3, 3.6, 4.2, 4.8, 5.4, 6.1, 6.8, 7.4, 8],
    [3, 3.5, 4.1, 4.6, 5],
    [3.8, 4.3, 4.8],
    [2.2, 2.7, 3.2, 3.7, 4.2, 4.7],
    [2.1, 2.5, 3, 3.5, 3.9],
    [1.8, 2, 2.5, 3, 3.6, 4.1],
    [2, 2.6, 3.2, 3.8, 4.4, 5, 5.5],
    [2, 2.6, 3.2, 3.8, 4.4, 5, 5.6, 6.2, 6.8, 7.5, 8, 8.5],
    [1.9, 2.4, 3, 3.6, 4.2, 4.8, 5.3, 5.8, 6.4, 7, 7.6, 8],
    [2.2, 2.8, 3.4, 4, 4.6, 5.1, 5.6, 6.2, 6.8, 7.5],
    [1.9, 2.3, 2.9, 3.5, 4.1, 4.6, 5.1, 5.6, 6, 6.5],
    [3.9, 4.5, 4.9, 5.3, 5.7, 6.1, 6.4],
    [4, 4.5, 4.9, 5.3, 5.7, 6.2],
    [4, 4.5, 5, 5.5, 5.9, 6.3],
    [4, 4.6, 5.2, 5.8, 6.3, 6.8, 7.3, 7.8],
    [4, 4.6, 5.2, 5.8, 6.4, 7, 7.6, 8.3],
    [4, 4.5, 5.1, 5.7, 6.3, 6.9, 7.7],
    [3.8, 4.3, 4.9, 5.5, 6.1, 6.7, 7.3, 7.9, 8.4],
    [3.7, 4.3, 4.9, 5.5, 6.1, 6.7, 7.3, 7.8],
    [3.4, 4.1, 4.5, 5, 6, 6.2, 7.2, 7.7],
]
green_fill_depth = [140, 175, 205, 240, 280, 320, 360, 400, 440, 480, 520, 560, 600, 645, 695, 745, 795, 840, 880, 925, 975, 1025, 1070, 1110, 1150, 1195, 1240, 1280, 1320, 1370, 1420, 1465, 1515, 1560, 1600, 1650, 1705, 1755, 1800, 1845, 1895, 1945, 1985, 2025, 2080, 2130, 2180, 2235, 2280, 2325, 2375, 2425, 2480, 2530, 2610, 2745, 2795, 2845, 2890, 2935, 2985, 3030, 3075, 3125, 3180, 3235, 3285, 3335, 3385, 3430]
green_fill_rop = [
    [5.5, 6, 6.5, 6.9, 7.3, 7.7, 8.2, 8.6],
    [5.2, 5.7, 6.1, 6.6, 7, 7.5, 7.9, 8.4, 8.8, 9.6, 10.5, 11.3, 12],
    [4.2, 4.7, 5.1, 5.6, 6.1, 6.6, 7, 7.6, 8.1, 8.6, 9.1, 9.6, 10.2, 10.8, 11.4],
    [5, 5.6, 6.1, 6.6, 7, 7.5, 8, 8.5, 9.1, 9.7, 10.3, 10.9, 11.5],
    [5.6, 6.1, 6.6, 7, 7.4, 7.9, 8.4, 8.9, 9.5, 10.1, 10.7, 11.3, 11.9],
    [5.9, 6.4, 6.9, 7.3, 7.8, 8.3, 8.8, 9.4, 10, 10.6, 11.2],
    [5.8, 6.3, 6.7, 7.1, 7.5, 7.9, 8.4, 8.9, 9.5, 10.1, 10.8, 11.4],
    [5.7, 6.2, 6.7, 7.1, 7.5, 7.9, 8.3, 8.8, 9.3, 9.8, 10.4, 11],
    [5.5, 6, 6.5, 6.9, 7.3, 7.7, 8.1, 8.6, 9.1, 9.7, 10.3, 10.9, 11.5],
    [5, 5.5, 6, 6.5, 7, 7.4, 7.8, 8.2, 8.7, 9.2, 9.8, 10.4, 11.1, 11.7],
    [4.8, 5.3, 5.8, 6.3, 6.7, 7.1, 7.5, 7.9, 8.4, 8.9, 9.5, 10.1, 10.7, 11.4, 12.1],
    [4.9, 5.4, 5.9, 6.4, 6.8, 7.2, 7.6, 8, 8.5, 9, 9.6, 10.2, 10.9, 11.5, 12.1, 12.6],
    [3.5, 4.2, 4.7, 5.2, 5.7, 6.2, 6.6, 7, 7.4, 7.8, 8.3, 8.8, 9.3, 9.9, 10.5, 11.1, 11.7, 12.3],
    [3.4, 3.9, 4.4, 4.9, 5.4, 5.9, 6.3, 6.7, 7.1, 7.5, 8, 8.5, 9, 9.6, 10.2, 10.8, 11.4, 12],
    [3.7, 4.2, 4.7, 5.2, 5.7, 6.2, 6.6, 7, 7.4, 7.9, 8.4, 8.9, 9.5, 10.1, 10.7, 11.3, 12],
    [4, 4.5, 5, 5.5, 6, 6.4, 6.8, 7.2, 7.7, 8.2, 8.7, 9.3, 9.9, 10.5, 11.2, 11.9],
    [3.5, 4, 4.6, 5.2, 5.7, 6.2, 6.7, 7.2, 7.7, 8.2, 8.8, 9.4, 10, 10.7],
    [4.1, 4.7, 5.3, 5.8, 6.3, 6.8, 7.3, 7.8, 8.3, 8.8, 9.3, 9.9],
    [4.6, 5.1, 5.6, 6.1, 6.6, 7.1, 7.6, 8.1, 8.6, 9.1],
    [4.1, 4.7, 5.2, 5.7, 6.2, 6.7, 7.2, 7.7, 8.2],
    [3.2, 3.7, 4.2, 4.7, 5.2, 5.7, 6.2, 6.7, 7.2, 7.7],
    [2.6, 3.1, 3.7, 4.2, 4.7, 5.2, 5.7, 6.2, 6.7, 7.2, 7.7, 8.1],
    [2.4, 2.9, 3.5, 4.1, 4.7, 5.3, 5.8, 6.3, 6.8, 7.3, 7.8, 8.4, 9.3, 10],
    [2.1, 2.6, 3.1, 3.7, 4.3, 4.9, 5.4, 5.8, 6.2, 6.6, 7, 7.4, 7.8, 8.3, 8.9, 9.5, 10.1],
    [3.3, 4.3, 4.8, 5.3, 5.7, 6.1, 6.4, 6.7, 7, 7.3, 7.6, 8, 8.4, 8.9, 9.5, 10.1],
    [4.6, 5.1, 5.6, 6, 6.4, 6.7, 7, 7.3, 7.6, 7.9, 8.3, 8.7, 9.2, 9.7, 10.3, 10.7],
    [4.7, 5.2, 5.7, 6.2, 6.6, 6.9, 7.2, 7.5, 7.8, 8.2, 8.6, 9.1, 9.6, 10.2, 10.9],
    [4.5, 5, 5.5, 6, 6.4, 6.8, 7.1, 7.5, 7.9, 8.3, 8.7, 9.2, 9.8, 10.4, 11, 11.6, 12.2],
    [4.2, 4.7, 5.2, 5.7, 6.2, 6.6, 7, 7.4, 7.8, 8.2, 8.7, 9.2, 9.8, 10.4, 11, 11.7],
    [3.8, 4.4, 5, 5.6, 6.1, 6.6, 7, 7.5, 7.9, 8.4, 8.9, 9.4, 9.9, 10.5, 11.2],
    [3.6, 4, 4.5, 5.1, 5.7, 6.3, 6.8, 7.2, 7.6, 8, 8.5, 9, 9.5, 10, 10.5, 11],
    [4.2, 4.7, 5.2, 5.7, 6.2, 6.7, 7.2, 7.7, 8.2, 8.6, 9, 9.4, 9.8, 10.2, 10.6, 11],
    [4.6, 5.1, 5.6, 6.1, 6.6, 7.1, 7.6, 8.1, 8.5, 8.9, 9.3, 9.7, 10.1, 10.5, 10.9],
    [3.9, 5.4, 5.9, 6.4, 6.9, 7.4, 7.9, 8.4, 8.9, 9.4, 9.9, 10.4, 11, 11.6, 12],
    [4.6, 5.1, 5.6, 6.1, 6.7, 7.3, 7.9, 8.4, 8.9, 9.4, 9.9, 10.4, 11],
    [4.1, 4.6, 5.1, 5.6, 6.1, 6.6, 7.1, 7.6, 8.1, 8.6, 9.1, 9.6, 10.1, 10.7],
    [4, 4.5, 5, 5.5, 6, 6.5, 7, 7.5, 8, 8.5, 9, 9.5, 10, 10.4],
    [4.3, 4.8, 5.3, 5.8, 6.3, 6.8, 7.3, 7.8, 8.3, 8.8, 9.3, 9.8, 10.3],
    [3.8, 4.3, 4.8, 5.3, 5.8, 6.3, 6.8, 7.3, 7.8, 8.3, 8.8, 9.3, 9.8],
    [3.4, 3.9, 4.4, 4.9, 5.4, 5.9, 6.4, 6.9, 7.4, 7.9, 8.4, 8.9, 9.4, 9.9],
    [3.3, 3.8, 4.3, 4.8, 5.2, 5.7, 6.2, 6.7, 7.2, 7.7, 8.2, 8.7, 9.2],
    [2.2, 3.2, 3.7, 4.2, 4.7, 5.1, 5.5, 5.9, 6.3, 6.7, 7.1, 7.5, 7.9, 8.3],
    [2.1, 2.7, 3.2, 3.7, 4.2, 4.7, 5.1, 5.5, 5.9, 6.3, 6.7, 7.1, 7.5, 8, 8.4],
    [3.7, 4.2, 4.7, 5.2, 5.6, 6, 6.4, 6.8, 7.2, 7.7, 8.2, 8.6],
    [3.7, 4.2, 4.6, 5, 5.4, 5.9, 6.4, 6.9, 7.4, 7.9],
    [3.3, 3.7, 4.1, 4.4, 4.7, 5, 5.4, 5.9, 6.5, 7.1, 7.7, 8.2],
    [3.1, 3.6, 3.9, 4.2, 4.4, 4.7, 5, 5.4, 5.9, 6.5, 7.1, 7.7, 8.3],
    [2.6, 3.1, 3.6, 4, 4.3, 4.6, 4.9, 5.3, 5.8, 6.3, 6.9, 7.5, 8.1, 8.6],
    [2.2, 2.8, 3.3, 3.8, 4.2, 4.6, 5, 5.5, 6, 6.6, 7.2, 7.8, 8.4, 8.9],
    [2.6, 3.1, 3.6, 4.1, 4.6, 5.1, 5.6, 6.2, 6.8, 7.4, 8, 8.6, 9.2],
    [3, 3.5, 4, 4.6, 5.2, 5.8, 6.4, 7, 7.6, 8.2, 8.9],
    [2.6, 3.1, 3.7, 4.3, 4.9, 5.5, 6.1, 6.7, 7.3, 7.9],
    [1.2, 2, 2.8, 3.3, 3.9, 4.5, 5.1, 5.7, 6.3],
    [3.1, 3.7, 4.3, 4.9, 5.5],
    [3.3, 3.9, 4.4],
    [2.4, 2.9, 3.4, 3.8],
    [1.9, 2.3, 2.8, 3.3, 3.9],
    [2.3, 2.9, 3.5, 4.1, 4.8, 5.4],
    [2.2, 2.8, 3.4, 4, 4.6, 5.2, 5.8, 6.5, 7.2, 7.8],
    [2.1, 2.7, 3.3, 3.9, 4.5, 5.1, 5.7, 6.3, 6.9, 7.3],
    [2.4, 3, 3.6, 4.2, 4.7, 5.2, 5.8, 6.4, 7],
    [3.3, 4.2, 4.7, 5.1, 5.5, 5.9, 6.3],
    [4.1, 4.6, 5, 5.4, 5.8, 6.2],
    [4.2, 4.7, 5.1, 5.5, 5.9, 6.2],
    [4.1, 4.7, 5.3, 5.9, 6.5, 7],
    [4.2, 4.8, 5.4, 6, 6.6, 7.2, 7.9],
    [4.2, 4.8, 5.4, 6, 6.6, 7.2, 8],
    [4.1, 4.7, 5.3, 5.9, 6.5, 7.1, 7.7],
    [4, 4.6, 5.2, 5.8, 6.4, 7, 7.6],
    [3.6, 4, 4.6, 5.2, 5.8, 6.4, 7],
]
# darkest part of the green cloud
green_core_depth = [515, 590, 655, 735, 1135, 1160, 1185, 1210, 1250, 1480, 1505, 1530, 1690, 1715, 1770, 1930, 1955, 2175, 2195, 2220, 2245, 3040, 3065]
green_core_rop = [
    [7.5, 8, 8.5, 9, 9.5], [7.2, 7.7, 8.2, 8.7, 9.2], [7, 7.5, 8, 8.5], [7.1, 7.6, 8.1, 8.6],
    [5.9, 6.3, 6.7, 7.1, 7.5, 7.9], [6, 6.4, 6.8, 7.2, 7.6, 8, 8.4], [6.2, 6.6, 7, 7.4, 7.8, 8.2, 8.6], [6.4, 6.8, 7.2, 7.6, 8, 8.4], [6.6, 7, 7.4, 7.8, 8.2],
    [7.8, 8.2, 8.6, 9, 9.4, 9.8], [8, 8.4, 8.8, 9.2, 9.6, 10], [8.2, 8.6, 9, 9.4, 9.8],
    [5.4, 5.9, 6.4, 6.9, 7.4], [5.2, 5.7, 6.2, 6.7, 7.2], [5, 5.5, 6, 6.5, 7],
    [4.4, 4.9, 5.4, 5.9, 6.4], [4.2, 4.7, 5.2, 5.7, 6.2, 6.7],
    [3.6, 3.9, 4.2, 4.5, 4.8, 5.1], [3.5, 3.8, 4.1, 4.4, 4.7, 5], [3.7, 4, 4.3, 4.6, 4.9], [3.6, 3.9, 4.2, 4.5],
    [4.6, 5, 5.4, 5.8], [4.5, 4.9, 5.3, 5.7],
]

titles = ["Recorded ROP", "Recorded ROP after removing outliers",
          "Recorded ROP after removing outliers\nand applying noise reduction filter"]
x_limits = [300, 20, 15]
x_ticks = [[0, 100, 200, 300], [0, 5, 10, 15, 20], [0, 5, 10, 15]]
y_ticks = [0, 500, 1000, 1500, 2000, 2500, 3000, 3500]
face_colors = ["#D95319", "#0072BD", "#5FA327"]
edge_colors = ["#FF1500", "#1C3763", "#158C00"]
edge_widths = [1.3, 0.9, 1.0]
lefts = [74, 459.5, 845.5]
title_pads = [9, 9, 5.5]


def flatten_rows(depth, rop):
    ys = np.repeat(depth, [len(r) for r in rop])
    xs = np.concatenate([np.asarray(r, dtype=float) for r in rop])
    # draw in depth order so the overlaps build up like the log
    order = np.argsort(ys, kind="stable")
    return xs[order], ys[order]


fig = plt.figure(figsize=(11.51, 4.02), dpi=100)

red_x, red_y = flatten_rows(red_depth + red_fill_depth, red_rop + red_fill_rop)
blue_x, blue_y = flatten_rows(blue_depth + blue_fill_depth + blue_core_depth,
                              blue_rop + blue_fill_rop + blue_core_rop)
green_x, green_y = flatten_rows(green_depth + green_fill_depth + green_core_depth,
                                green_rop + green_fill_rop + green_core_rop)
panels = [(np.append(red_x, red_top_rop), np.append(red_y, red_top_depth)),
          (blue_x, blue_y), (green_x, green_y)]

for i, (xs, ys) in enumerate(panels):
    ax = fig.add_axes([lefts[i] / 1151, 1 - 349 / 402, 293.5 / 1151, 295 / 402])
    ax.scatter(xs, ys, s=44, facecolor=face_colors[i], edgecolor=edge_colors[i],
               linewidth=edge_widths[i], clip_on=False, zorder=5)
    ax.set_xlim(0, x_limits[i])
    ax.set_ylim(3500, 0)
    ax.set_xticks(x_ticks[i])
    ax.set_yticks(y_ticks)
    ax.grid(True, color="#ebebeb", linewidth=1.1)
    ax.set_axisbelow(True)
    ax.tick_params(direction="in", length=3, width=0.8, top=True, right=True,
                   labelsize=14, pad=5.5)
    ax.set_xlabel("Real ROP (m/hr)", fontsize=13.5, fontweight="bold", labelpad=4.5)
    ax.set_ylabel("Depth (m)", fontsize=13.5, fontweight="bold", labelpad=0)
    ax.set_title(titles[i], fontsize=13.7, fontweight="bold", pad=title_pads[i], linespacing=1.35)
    for spine in ax.spines.values():
        spine.set_linewidth(0.9)
        spine.set_zorder(4)

fig.savefig("out.png", dpi=100)
